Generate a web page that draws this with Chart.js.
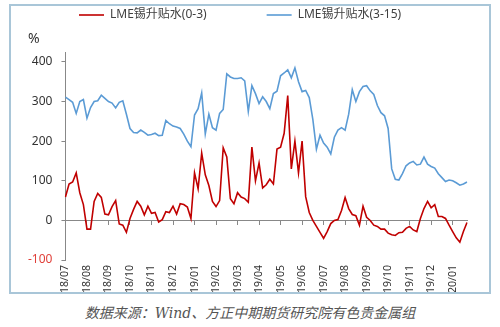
<!DOCTYPE html>
<html>
<head>
<meta charset="utf-8">
<script src="https://cdn.jsdelivr.net/npm/chart.js@4.4.1/dist/chart.umd.min.js"></script>
<style>
  html, body { margin: 0; padding: 0; background: #fff; }
  body { width: 500px; height: 327px; position: relative; overflow: hidden; font-family: "Noto Sans", "Noto Sans CJK SC", sans-serif; }
  #frame { position: absolute; left: 9px; top: 4px; width: 482px; height: 290px; box-sizing: border-box; border: 2px solid #a9c6d8; }
  #chart { position: absolute; left: 11px; top: 6px; }
  #unit { position: absolute; left: 28px; top: 28px; font-size: 14px; color: #333; }
  #source { position: absolute; left: 0; width: 500px; top: 302px; text-align: center; font-style: italic; font-size: 14px; color: #555; font-family: "DejaVu Serif", "Noto Sans CJK SC", serif; }
</style>
</head>
<body>
<div id="frame"></div>
<canvas id="chart" width="478" height="286"></canvas>
<span id="unit">%</span>
<div id="source">数据来源：Wind、方正中期期货研究院有色贵金属组</div>
<script>
// month tick labels, 6 readings per month
const monthLabels = ["18/07", "18/08", "18/09", "18/10", "18/11", "18/12", "19/01", "19/02", "19/03", "19/04",
  "19/05", "19/06", "19/07", "19/08", "19/09", "19/10", "19/11", "19/12", "20/01"];
const perMonth = 6;
const yTicks = [-100, 0, 100, 200, 300, 400];

// LME锡升贴水(0-3)
const spread0to3 = [
  59, 92, 97, 120, 70, 40,
  -22, -22, 48, 68, 58, 16,
  14, 35, 50, -9, -12, -30,
  5, 28, 48, 36, 14, 36,
  18, 20, -4, 2, 22, 20,
  36, 16, 42, 40, 34, 5,
  120, 80, 170, 115, 88, 48,
  35, 50, 183, 160, 55, 42,
  70, 59, 55, 46, 185, 100,
  145, 82, 90, 104, 92, 180,
  185, 220, 315, 130, 200, 120,
  200, 60, 20, 0, -15, -30,
  -45, -28, -8, 0, 2, 25,
  58, 30, 15, 12, -12, 36,
  8, 0, -12, -15, -22, -22,
  -32, -36, -38, -31, -30, -20,
  -15, -24, -28, 5, 30, 48,
  32, 40, 10, 10, 5, -12,
  -28, -44, -55, -28, -5
];

// LME锡升贴水(3-15)
const spread3to15 = [
  311, 305, 298, 270, 300, 305,
  258, 285, 300, 302, 316, 308,
  300, 296, 284, 298, 302, 268,
  232, 222, 221, 228, 222, 215,
  217, 220, 214, 215, 252, 244,
  238, 236, 232, 218, 200, 186,
  266, 282, 322, 218, 268, 234,
  228, 270, 280, 370, 362, 358,
  358, 360, 352, 275, 340, 320,
  295, 312, 300, 282, 320, 326,
  365, 372, 380, 360, 385, 350,
  325, 328, 310, 255, 180, 215,
  195, 185, 168, 210, 228, 234,
  228, 268, 330, 300, 325, 338,
  340, 327, 318, 290, 272, 264,
  232, 130, 104, 102, 118, 138,
  145, 149, 140, 142, 160, 142,
  136, 132, 118, 108, 98, 102,
  100, 95, 89, 92, 97
];

const labels = spread0to3.map((_, i) => (i % perMonth === 0 ? monthLabels[i / perMonth] : ""));

Chart.defaults.font.family = '"Noto Sans", "Noto Sans CJK SC", sans-serif';
Chart.defaults.font.size = 12;
Chart.defaults.color = "#333";

// legend sits higher than its padding would put it
const liftLegend = {
  id: "liftLegend",
  afterLayout(chart) {
    chart.legend.top -= 57;
  }
};

new Chart(document.getElementById("chart"), {
  type: "line",
  data: {
    labels: labels,
    datasets: [
      {
        label: "LME锡升贴水(0-3)",
        data: spread0to3,
        borderColor: "#c00000",
        backgroundColor: "#c00000",
        borderWidth: 1.6,
        pointRadius: 0,
        tension: 0
      },
      {
        label: "LME锡升贴水(3-15)",
        data: spread3to15,
        borderColor: "#5b9bd5",
        backgroundColor: "#5b9bd5",
        borderWidth: 1.6,
        pointRadius: 0,
        tension: 0
      }
    ]
  },
  options: {
    responsive: false,
    animation: false,
    layout: { padding: { left: 8, right: 22, top: 0, bottom: -6 } },
    plugins: {
      tooltip: { enabled: false },
      legend: {
        position: "top",
        align: "start",
        maxHeight: 46,
        labels: {
          usePointStyle: true,
          pointStyle: "line",
          pointStyleWidth: 25,
          padding: 60,
          color: "#404040",
          font: { size: 12 }
        }
      }
    },
    scales: {
      x: {
        type: "category",
        grid: { display: false, drawTicks: false },
        border: { display: false },
        ticks: { autoSkip: false, minRotation: 90, maxRotation: 90, padding: 5, color: "#333", font: { size: 10.5 } }
      },
      x2: {
        type: "category",
        position: { y: 0 },
        grid: {
          drawOnChartArea: false,
          tickLength: 4,
          tickColor: (ctx) => (ctx.index % perMonth === 0 ? "#888" : "rgba(0,0,0,0)")
        },
        border: { color: "#888", width: 1 },
        ticks: { display: false, autoSkip: false }
      },
      y: {
        min: -100,
        max: 425,
        afterBuildTicks: (scale) => {
          scale.ticks = yTicks.map((v) => ({ value: v }));
        },
        grid: { drawOnChartArea: false, tickLength: 4, tickColor: "#888" },
        border: { color: "#888", width: 1 },
        ticks: {
          padding: 9,
          color: (ctx) => (ctx.tick.value < 0 ? "#e0403a" : "#333")
        }
      }
    }
  },
  plugins: [liftLegend]
});
</script>
</body>
</html>
